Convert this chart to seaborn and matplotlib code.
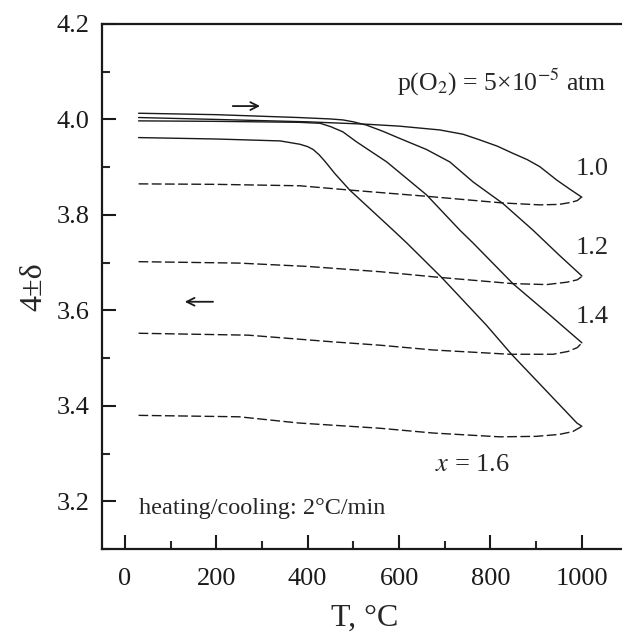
import numpy as np
import pandas as pd
import seaborn as sns
import matplotlib.pyplot as plt
from matplotlib.ticker import MultipleLocator

# heating runs (solid), T in C and 4+-delta
heat_T_10 = [30, 200, 400, 529, 600, 689, 740, 777, 815, 849, 880, 908, 945, 975, 1000]
heat_d_10 = [4.004, 4.000, 3.995, 3.990, 3.986, 3.978, 3.969, 3.957, 3.944, 3.929, 3.916, 3.901, 3.873, 3.853, 3.837]
heat_T_12 = [30, 200, 380, 450, 477, 500, 529, 565, 602, 660, 711, 762, 827, 893, 950, 1000]
heat_d_12 = [4.013, 4.010, 4.004, 4.001, 3.999, 3.995, 3.988, 3.975, 3.960, 3.937, 3.911, 3.869, 3.824, 3.768, 3.716, 3.672]
heat_T_14 = [30, 200, 380, 427, 450, 477, 507, 540, 573, 660, 733, 762, 849, 930, 1000]
heat_d_14 = [3.997, 3.996, 3.994, 3.992, 3.985, 3.974, 3.953, 3.932, 3.911, 3.842, 3.768, 3.741, 3.656, 3.590, 3.532]
heat_T_16 = [30, 200, 340, 383, 400, 412, 425, 438, 460, 492, 587, 617, 693, 791, 846, 989, 1000]
heat_d_16 = [3.962, 3.959, 3.955, 3.948, 3.943, 3.937, 3.926, 3.912, 3.886, 3.852, 3.768, 3.741, 3.669, 3.569, 3.508, 3.364, 3.357]

# cooling runs (dashed)
cool_T_10 = [30, 200, 383, 492, 660, 827, 908, 950, 975, 990, 1000]
cool_d_10 = [3.865, 3.864, 3.861, 3.852, 3.839, 3.825, 3.821, 3.822, 3.826, 3.830, 3.838]
cool_T_12 = [30, 250, 400, 558, 689, 849, 923, 967, 990, 1000]
cool_d_12 = [3.702, 3.699, 3.692, 3.681, 3.669, 3.656, 3.654, 3.659, 3.664, 3.671]
cool_T_14 = [30, 270, 455, 558, 674, 842, 937, 970, 990, 1000]
cool_d_14 = [3.552, 3.548, 3.534, 3.527, 3.517, 3.508, 3.508, 3.514, 3.522, 3.532]
cool_T_16 = [30, 250, 380, 558, 674, 820, 900, 950, 980, 1000]
cool_d_16 = [3.380, 3.377, 3.364, 3.353, 3.343, 3.335, 3.336, 3.340, 3.346, 3.357]

comps = ["1.0", "1.2", "1.4", "1.6"]
heat_T = [heat_T_10, heat_T_12, heat_T_14, heat_T_16]
heat_d = [heat_d_10, heat_d_12, heat_d_14, heat_d_16]
cool_T = [cool_T_10, cool_T_12, cool_T_14, cool_T_16]
cool_d = [cool_d_10, cool_d_12, cool_d_14, cool_d_16]

sns.set_theme(style="ticks")
plt.rcParams['font.family'] = ['Liberation Serif', 'DejaVu Serif']
plt.rcParams['mathtext.fontset'] = 'stix'

fig = plt.figure(figsize=(6.22, 6.43), dpi=100)
ax = fig.add_axes([0.164, 0.1462, 0.845, 0.8165])

for c, T, d in zip(comps, heat_T, heat_d):
    sns.lineplot(x=T, y=d, ax=ax, color='k', lw=1.0, sort=False)
for c, T, d in zip(comps, cool_T, cool_d):
    sns.lineplot(x=T, y=d, ax=ax, color='k', lw=1.0, sort=False,
                 linestyle=(0, (7, 2.5)))

ax.set_xlim(-50, 1100)
ax.set_ylim(3.1, 4.2)
ax.xaxis.set_major_locator(MultipleLocator(200))
ax.xaxis.set_minor_locator(MultipleLocator(100))
ax.yaxis.set_major_locator(MultipleLocator(0.2))
ax.yaxis.set_minor_locator(MultipleLocator(0.1))
ax.set_xticks([0, 200, 400, 600, 800, 1000])
ax.tick_params(which='major', direction='in', length=10, width=1.5,
               labelsize=19, pad=9, colors='k')
ax.tick_params(which='minor', direction='in', length=6, width=1.5)
ax.tick_params(axis='x', pad=14)
ax.spines['right'].set_visible(False)
for s in ['left', 'bottom', 'top']:
    ax.spines[s].set_linewidth(1.6)
    ax.spines[s].set_color('k')

ax.set_xlabel('T, °C', fontsize=23, labelpad=10)
ax.set_ylabel('4±δ', fontsize=23, labelpad=6)

ax.text(595, 4.078, r'p(O$_2$) = 5×10$^{-5}$ atm', fontsize=18.5, va='center')
ax.text(32, 3.185, 'heating/cooling: 2°C/min', fontsize=17.5, va='center')
label_y = [3.896, 3.730, 3.586]
for c, yv in zip(comps[:3], label_y):
    ax.text(1022, yv, c, fontsize=19, ha='center', va='center')
ax.text(760, 3.275, r'$x$ = 1.6', fontsize=19, ha='center', va='center')

ax.annotate('', xy=(302, 4.028), xytext=(230, 4.028),
            arrowprops=dict(arrowstyle='->', color='k', lw=1.3, mutation_scale=14))
ax.annotate('', xy=(125, 3.618), xytext=(199, 3.618),
            arrowprops=dict(arrowstyle='->', color='k', lw=1.3, mutation_scale=14))

fig.savefig('out.png', dpi=100)
